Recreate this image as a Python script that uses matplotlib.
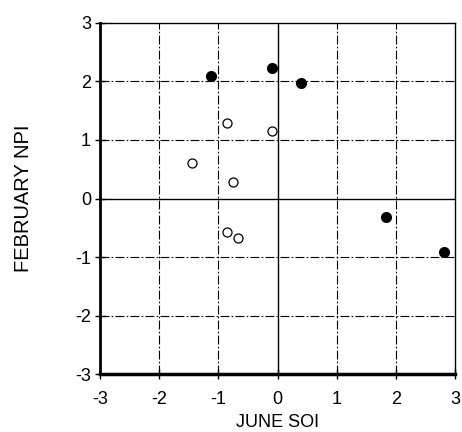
import matplotlib
matplotlib.use("Agg")
import matplotlib.pyplot as plt
import numpy as np

plt.rcParams['font.family'] = ['Liberation Sans', 'DejaVu Sans']

# filled circles
x_filled = [-1.13, -0.09, 0.40, 1.84, 2.81]
y_filled = [2.09, 2.23, 1.98, -0.32, -0.92]
# open circles
x_open = [-0.86, -1.44, -0.76, -0.09, -0.86, -0.66]
y_open = [1.29, 0.61, 0.29, 1.16, -0.57, -0.68]

ticks = [-3, -2, -1, 0, 1, 2, 3]

fig = plt.figure(figsize=(4.62, 4.32), dpi=100)
ax = fig.add_axes([0.2165, 0.134, 0.7685, 0.813])

for t in [-2, -1, 1, 2]:
    ax.axvline(t, color='black', lw=0.8, ls=(0, (8, 2, 1.5, 2)), zorder=1)
    ax.axhline(t, color='black', lw=0.8, ls=(0, (8, 2, 1.5, 2)), zorder=1)
ax.axvline(0, color='black', lw=1.0, zorder=1)
ax.axhline(0, color='black', lw=1.0, zorder=1)

ax.plot(x_filled, y_filled, 'o', ms=7, mfc='black', mec='black', zorder=3)
ax.plot(x_open, y_open, 'o', ms=6.5, mfc='white', mec='black', mew=0.9, zorder=3)

ax.set_xlim(-3, 3)
ax.set_ylim(-3, 3)
ax.set_xticks(ticks)
ax.set_yticks(ticks)
ax.set_xticklabels([str(t) for t in ticks])
ax.set_yticklabels([str(t) for t in ticks])
ax.tick_params(direction='inout', length=7, width=1.0, labelsize=13)
ax.tick_params(axis='x', pad=9)
ax.tick_params(axis='y', pad=3)

ax.spines['left'].set_linewidth(2.0)
ax.spines['bottom'].set_linewidth(2.5)
ax.spines['top'].set_linewidth(1.0)
ax.spines['right'].set_linewidth(1.0)

ax.set_xlabel("JUNE SOI", fontsize=13, labelpad=4)
ax.set_ylabel("FEBRUARY NPI", fontsize=14.5, labelpad=30)

plt.savefig("out.png", dpi=100)
